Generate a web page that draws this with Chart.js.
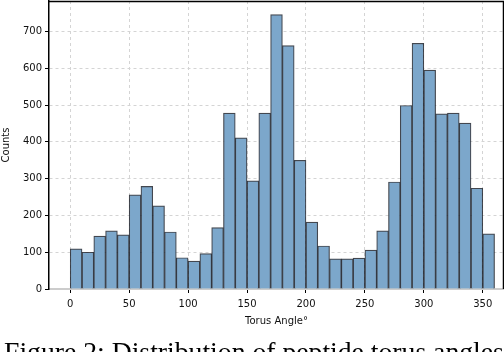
<!DOCTYPE html>
<html>
<head>
<meta charset="utf-8">
<script src="https://cdn.jsdelivr.net/npm/chart.js@4.4.0/dist/chart.umd.min.js"></script>
<style>
  html, body { margin: 0; padding: 0; background: #fff; overflow: hidden; }
  #wrap { position: relative; width: 504px; height: 352px; overflow: hidden; }
  #caption {
    position: absolute; left: 4px; top: 338px; white-space: nowrap; line-height: 1;
    font-family: "Liberation Serif", serif; font-size: 27.7px; color: #000;
  }
</style>
</head>
<body>
<div id="wrap">
  <canvas id="hist" width="504" height="352"></canvas>
  <div id="caption">Figure 2: Distribution of peptide torus angles</div>
</div>
<script>
// bin left edges (width 10) and counts
const binStarts = [0, 10, 20, 30, 40, 50, 60, 70, 80, 90, 100, 110, 120, 130, 140, 150, 160, 170,
                   180, 190, 200, 210, 220, 230, 240, 250, 260, 270, 280, 290, 300, 310, 320, 330, 340, 350];
const counts = [109, 100, 144, 158, 147, 256, 279, 226, 155, 85, 76, 96, 167, 478, 411, 294, 478, 746,
                662, 350, 182, 117, 82, 82, 84, 106, 158, 291, 499, 668, 595, 476, 478, 451, 274, 150];
const binWidth = 10;
const xTicks = [0, 50, 100, 150, 200, 250, 300, 350];
const yTicks = [0, 100, 200, 300, 400, 500, 600, 700];

const font = { family: 'DejaVu Sans', size: 10 };

// matplotlib-style frame: black top/right spines
const frame = {
    id: 'frame',
    afterDraw(chart) {
        const { ctx, chartArea: a } = chart;
        ctx.save();
        ctx.strokeStyle = '#000';
        ctx.lineWidth = 1.5;
        ctx.beginPath();
        ctx.moveTo(a.left, a.top + 0.5);
        ctx.lineTo(a.right, a.top + 0.5);
        ctx.moveTo(a.right - 0.5, a.top);
        ctx.lineTo(a.right - 0.5, a.bottom);
        ctx.stroke();
        ctx.restore();
    }
};

new Chart(document.getElementById('hist').getContext('2d'), {
    type: 'bar',
    data: {
        datasets: [{
            data: binStarts.map((b, i) => ({ x: b + binWidth / 2, y: counts[i] })),
            backgroundColor: '#7ca7cb',
            borderColor: 'rgba(20,25,35,0.8)',
            borderWidth: 1.2,
            barPercentage: 1,
            categoryPercentage: 1
        }]
    },
    options: {
        responsive: false,
        animation: false,
        layout: { padding: { top: 1, right: 0, left: 0, bottom: 25 } },
        plugins: { legend: { display: false }, tooltip: { enabled: false } },
        scales: {
            x: {
                type: 'linear',
                offset: false,
                min: -18,
                max: 368,
                afterBuildTicks: s => { s.ticks = xTicks.map(v => ({ value: v })); },
                afterFit: s => { s.paddingLeft = 0; s.paddingRight = 0; },
                ticks: { font, color: '#111', padding: 5, maxRotation: 0 },
                grid: { offset: false, color: '#d4d4d4', tickColor: '#000', tickLength: 4, tickBorderDash: [] },
                border: { color: '#cccccc', width: 2, dash: [3, 3] },
                title: { display: true, text: 'Torus Angle°', font, color: '#111', padding: { top: 0, bottom: 0 } }
            },
            y: {
                min: 0,
                max: 783,
                afterBuildTicks: s => { s.ticks = yTicks.map(v => ({ value: v })); },
                afterFit: s => { s.width = 49; s.paddingTop = 0; s.paddingBottom = 0; },
                ticks: { font, color: '#111', padding: 3 },
                grid: { color: '#d4d4d4', tickColor: '#000', tickLength: 4, tickBorderDash: [] },
                border: { color: '#000', width: 1.5, dash: [3, 3] },
                title: { display: true, text: 'Counts', font, color: '#111', padding: 0 }
            }
        }
    },
    plugins: [frame]
});
</script>
</body>
</html>
